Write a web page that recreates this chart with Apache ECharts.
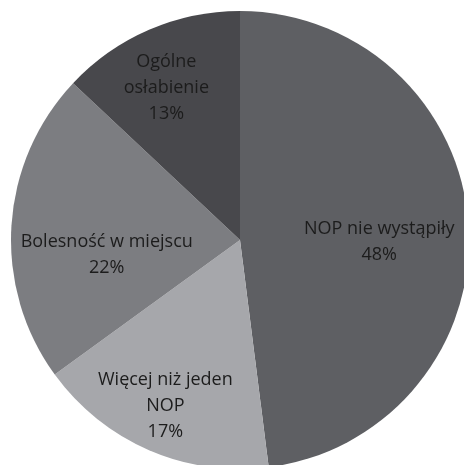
<!DOCTYPE html>
<html>
<head>
<meta charset="utf-8">
<script src="https://cdn.jsdelivr.net/npm/echarts@6/dist/echarts.min.js"></script>
<style>
  html, body { margin: 0; padding: 0; background: #fff; }
  #chart { width: 464px; height: 465px; }
</style>
</head>
<body>
<div id="chart"></div>
<script>
// dane
var categories = ['NOP nie wystąpiły', 'Więcej niż jeden\nNOP', 'Bolesność w miejscu', 'Ogólne\nosłabienie'];
var values = [48, 17, 22, 13];
var colors = ['#5e5f63', '#a6a7ab', '#7c7d81', '#48484c'];
var labelOffsets = [[22, 9], [-28, 58], [-16, 22], [-27, -44]]; // przesunięcia etykiet jak w Excelu

var chartData = [];
for (var i = 0; i < categories.length; i++) {
  chartData.push({
    name: categories[i],
    value: values[i],
    itemStyle: { color: colors[i] },
    label: { offset: labelOffsets[i] }
  });
}

var myChart = echarts.init(document.getElementById('chart'));
myChart.setOption({
  animation: false,
  series: [{
    type: 'pie',
    center: [240, 240],
    radius: [0, 229],
    startAngle: 90,
    clockwise: true,
    data: chartData,
    itemStyle: { borderWidth: 0 },
    label: {
      show: true,
      position: 'inside',
      formatter: '{b}\n{d}%',
      color: '#1c1c1c',
      fontFamily: 'Open Sans',
      fontSize: 18,
      lineHeight: 26,
      align: 'center'
    },
    labelLine: { show: false },
    emphasis: { disabled: true }
  }]
});
</script>
</body>
</html>
